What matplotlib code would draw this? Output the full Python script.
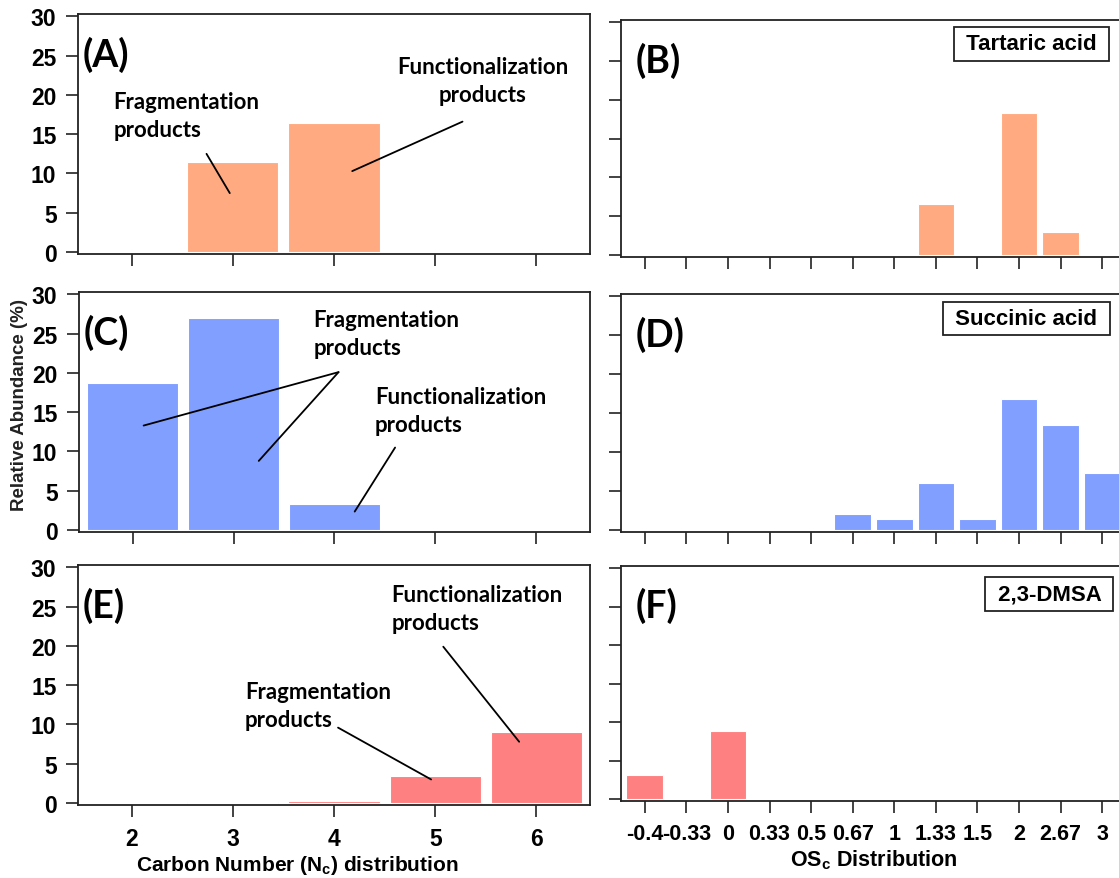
import matplotlib
matplotlib.use('Agg')
import matplotlib.pyplot as plt
import numpy as np

plt.rcParams['font.family'] = ['Liberation Sans', 'DejaVu Sans']
plt.rcParams['font.weight'] = 'bold'
plt.rcParams['mathtext.fontset'] = 'custom'
plt.rcParams['mathtext.rm'] = 'Liberation Sans:bold'
plt.rcParams['mathtext.it'] = 'Liberation Sans:bold'
plt.rcParams['mathtext.bf'] = 'Liberation Sans:bold'

# carbon number distribution (left column)
nc = [2, 3, 4, 5, 6]
tartaric_nc = [0, 11.4, 16.4, 0, 0]
succinic_nc = [18.7, 27.0, 3.3, 0, 0]
dmsa_nc = [0, 0.15, 0.2, 3.4, 9.0]

# oxidation state distribution (right column)
osc_labels = ['-0.4', '-0.33', '0', '0.33', '0.5', '0.67', '1', '1.33', '1.5', '2', '2.67', '3']
tartaric_osc = [0, 0, 0, 0, 0, 0, 0, 6.6, 0, 18.3, 3.0, 0]
succinic_osc = [0, 0, 0, 0, 0, 2.1, 1.4, 6.1, 1.4, 16.8, 13.5, 7.3]
dmsa_osc = [3.1, 0, 8.8, 0, 0, 0, 0, 0, 0, 0, 0, 0]

compounds = ['Tartaric acid', 'Succinic acid', '2,3-DMSA']
colors = ['#FFAA80', '#809FFF', '#FF8080']

W, H = 1119, 879
fig = plt.figure(figsize=(W / 100, H / 100), dpi=100)


def px_axes(left, top, right, bottom):
    return fig.add_axes([left / W, 1 - bottom / H, (right - left) / W, (bottom - top) / H])


def style(ax, labelsize):
    for s in ax.spines.values():
        s.set_linewidth(1.3)
        s.set_color('#222222')
    ax.tick_params(direction='out', length=8.5, width=1.2, color='#222222',
                   labelsize=labelsize, pad=7)
    ax.set_ylim(-0.25, 30.3)
    ax.set_yticks([0, 5, 10, 15, 20, 25, 30])


left_boxes = [(78, 15, 590, 255), (79, 293, 590, 533), (78, 566, 590, 806)]
right_boxes = [(621, 21, 1126, 258), (621, 295, 1126, 533), (621, 567, 1126, 802)]
nc_data = [tartaric_nc, succinic_nc, dmsa_nc]
osc_data = [tartaric_osc, succinic_osc, dmsa_osc]
letters = [('(A)', '(B)'), ('(C)', '(D)'), ('(E)', '(F)')]
box_pos = [(0.813, 0.899), (0.803, 0.897), (0.848, 0.881)]

ann_font = dict(family=['Lato', 'DejaVu Sans'], fontsize=16, fontweight='bold', linespacing=1.42)
letter_font = dict(family=['Lato', 'DejaVu Sans'], fontsize=27, fontweight='bold')
line_kw = dict(arrowstyle='-', color='black', lw=1.3, shrinkA=0, shrinkB=0)

axes_left, axes_right = [], []
for i in range(3):
    # left: carbon number
    ax = px_axes(*left_boxes[i])
    style(ax, 16.5)
    ax.bar(nc, nc_data[i], width=0.9, color=colors[i], edgecolor='#FFFFFF', linewidth=0.8)
    ax.set_xlim(1.47, 6.53)
    ax.set_xticks(nc)
    if i < 2:
        ax.tick_params(axis='x', labelbottom=False)
    ax.text(1.52, 25.2, letters[i][0], va='center', ha='left', **letter_font)
    axes_left.append(ax)

    # right: OSc
    ax2 = px_axes(*right_boxes[i])
    style(ax2, 15.5)
    x = np.arange(len(osc_labels))
    ax2.bar(x, osc_data[i], width=0.88, color=colors[i], edgecolor='#FFFFFF', linewidth=0.8)
    ax2.set_xlim(-0.57, 11.57)
    ax2.set_xticks(x)
    ax2.set_xticklabels(osc_labels)
    ax2.tick_params(axis='y', labelleft=False)
    ax2.spines['right'].set_visible(False)
    if i < 2:
        ax2.tick_params(axis='x', labelbottom=False)
    ax2.text(-0.22, 25.2, letters[i][1], va='center', ha='left', **letter_font)
    ax2.text(box_pos[i][0], box_pos[i][1], ' ' + compounds[i] + ' ', transform=ax2.transAxes,
             ha='center', va='center', fontsize=16, fontweight='bold',
             bbox=dict(boxstyle='square,pad=0.28', fc='white', ec='#222222', lw=1.3))
    axes_right.append(ax2)

axA, axC, axE = axes_left

# panel A annotations
axA.text(1.82, 20.5, 'Fragmentation\nproducts', ha='left', va='top', **ann_font)
axA.annotate('', xy=(2.97, 7.5), xytext=(2.74, 12.5), arrowprops=line_kw)
axA.text(5.47, 25.0, 'Functionalization\nproducts', ha='center', va='top',
         multialignment='center', **ann_font)
axA.annotate('', xy=(4.18, 10.3), xytext=(5.27, 16.6), arrowprops=line_kw)

# panel C annotations
axC.text(3.79, 28.1, 'Fragmentation\nproducts', ha='left', va='top', **ann_font)
axC.annotate('', xy=(2.11, 13.3), xytext=(4.04, 20.1), arrowprops=line_kw)
axC.annotate('', xy=(3.25, 8.8), xytext=(4.04, 20.1), arrowprops=line_kw)
axC.text(4.40, 18.3, 'Functionalization\nproducts', ha='left', va='top', **ann_font)
axC.annotate('', xy=(4.20, 2.35), xytext=(4.60, 10.5), arrowprops=line_kw)

# panel E annotations
axE.text(4.57, 27.9, 'Functionalization\nproducts', ha='left', va='top', **ann_font)
axE.annotate('', xy=(5.83, 7.8), xytext=(5.08, 19.9), arrowprops=line_kw)
axE.text(3.12, 15.5, 'Fragmentation\nproducts', ha='left', va='top', **ann_font)
axE.annotate('', xy=(4.96, 3.0), xytext=(4.04, 9.6), arrowprops=line_kw)

axE.set_xlabel(r'Carbon Number (N$_\mathrm{c}$) distribution', fontsize=15, fontweight='bold', labelpad=3)
axE.xaxis.set_label_coords((297 - 78) / (590 - 78), -0.2)
axes_right[2].set_xlabel(r'OS$_\mathrm{c}$ Distribution', fontsize=15.5, fontweight='bold', labelpad=3)

fig.text(20 / W, 1 - 405 / H, 'Relative Abundance (%)', rotation=90, ha='center', va='center',
         fontsize=13.5, fontweight='bold', color='#222222')

fig.savefig('out.png', dpi=100)
